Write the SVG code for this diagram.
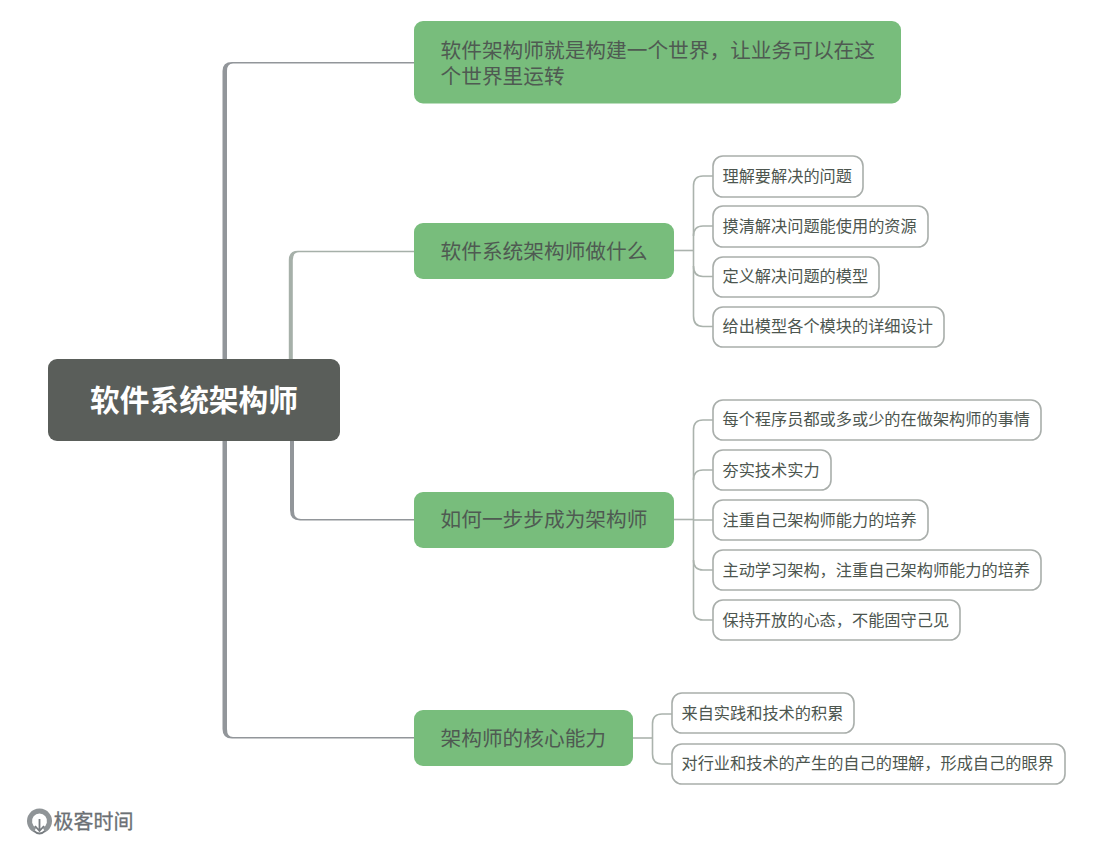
<svg xmlns="http://www.w3.org/2000/svg" width="1093" height="847" viewBox="0 0 1093 847">
<style>
text{font-family:"Noto Sans CJK SC","Liberation Sans",sans-serif;}
.b rect{fill:#78bd7c;}
.b text{font-size:20.7px;fill:#4f5a52;}
.l rect{fill:#fff;stroke:#a9aeab;stroke-width:1.6;}
.l text{font-size:16.2px;fill:#4d564f;}
.t{fill:#92969a;}
.g{fill:#a6b0a9;}
.s{fill:none;stroke:#abb3ad;stroke-width:1.6;}
</style>
<rect width="1093" height="847" fill="#fff"/>
<g id="connectors">
<path class="t" d="M222.500 359V71Q222.500 62 232 62H414V63.500H233Q227 63.500 227 71V359Z"/>
<path class="t" d="M222.500 441V729Q222.500 738.500 232 738.500H414V737H233Q227 737 227 729V441Z"/>
<path class="g" d="M288.800 359V260Q288.800 250.800 298 250.800H414V252.300H299Q292.800 252.300 292.800 260V359Z"/>
<path class="t" d="M290 441V510Q290 520.500 300 520.500H414V519H301Q294 519 294 511V441Z"/>
<path class="s" d="M674 250.500H693"/>
<path class="s" d="M713 176H703Q693.500 176 693.500 186V316Q693.500 326.500 703 326.500H713"/>
<path class="s" d="M713 226H703Q693.500 226 693.500 236M713 276.500H703Q693.500 276.500 693.500 266"/>
<path class="s" d="M674 519.500H693"/>
<path class="s" d="M713 420H703Q693.500 420 693.500 430V610Q693.500 620 703 620H713"/>
<path class="s" d="M713 470H703Q693.500 470 693.500 480M713 520H693.500M713 570H703Q693.500 570 693.500 560"/>
<path class="s" d="M633 738H652"/>
<path class="s" d="M672 714H662Q652.500 714 652.500 724V754Q652.500 764 662 764H672"/>
</g>
<g id="root">
<rect x="48" y="359" width="292" height="82" rx="9" fill="#5a5e5a"/>
<text x="194" y="411" font-size="29.700" font-weight="700" fill="#fff" text-anchor="middle">软件系统架构师</text>
</g>
<g id="b1" class="b">
<rect x="414" y="21" width="487" height="82.500" rx="9"/>
<text x="440.500" y="58">软件架构师就是构建一个世界，让业务可以在这<tspan x="440.500" y="84">个世界里运转</tspan></text>
</g>
<g id="b2" class="b">
<rect x="414" y="223" width="260" height="56" rx="9"/>
<text x="440.500" y="259">软件系统架构师做什么</text>
</g>
<g id="b3" class="b">
<rect x="414" y="492" width="260" height="56" rx="9"/>
<text x="440.500" y="527">如何一步步成为架构师</text>
</g>
<g id="b4" class="b">
<rect x="414" y="710" width="219" height="56" rx="9"/>
<text x="440.500" y="746">架构师的核心能力</text>
</g>
<g id="l1" class="l"><rect x="713" y="156" width="150" height="41" rx="10"/><text x="722.500" y="182">理解要解决的问题</text></g>
<g id="l2" class="l"><rect x="713" y="206" width="215" height="41" rx="10"/><text x="722.500" y="232">摸清解决问题能使用的资源</text></g>
<g id="l3" class="l"><rect x="713" y="257" width="166" height="40" rx="10"/><text x="722.500" y="282">定义解决问题的模型</text></g>
<g id="l4" class="l"><rect x="713" y="307" width="231" height="40" rx="10"/><text x="722.500" y="332">给出模型各个模块的详细设计</text></g>
<g id="l5" class="l"><rect x="713" y="400" width="328" height="40" rx="10"/><text x="722.500" y="425">每个程序员都或多或少的在做架构师的事情</text></g>
<g id="l6" class="l"><rect x="713" y="450" width="118" height="40" rx="10"/><text x="722.500" y="476">夯实技术实力</text></g>
<g id="l7" class="l"><rect x="713" y="500" width="215" height="40" rx="10"/><text x="722.500" y="526">注重自己架构师能力的培养</text></g>
<g id="l8" class="l"><rect x="713" y="550" width="328" height="40" rx="10"/><text x="722.500" y="576">主动学习架构，注重自己架构师能力的培养</text></g>
<g id="l9" class="l"><rect x="713" y="600" width="247" height="40" rx="10"/><text x="722.500" y="626">保持开放的心态，不能固守己见</text></g>
<g id="l10" class="l"><rect x="672" y="693" width="182" height="40" rx="10"/><text x="681.500" y="719">来自实践和技术的积累</text></g>
<g id="l11" class="l"><rect x="672" y="744" width="393" height="40" rx="10"/><text x="681.500" y="769">对行业和技术的产生的自己的理解，形成自己的眼界</text></g>
<g id="logo">
<path d="M35 830A10 10 0 1 1 44 830" fill="none" stroke="#8f9497" stroke-width="5"/>
<path d="M39.500 819V830M35 826L39.500 831L44 826M34 831Q39.500 836 45 831" fill="none" stroke="#777c80" stroke-width="1.800"/>
<text x="53.500" y="829" font-size="20" fill="#6b7074" stroke="#6b7074" stroke-width="0.300">极客时间</text>
</g>
</svg>
